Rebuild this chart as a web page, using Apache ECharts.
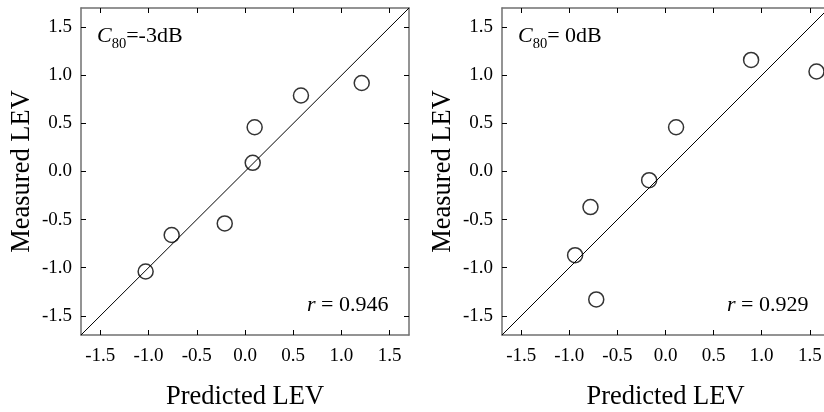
<!DOCTYPE html>
<html>
<head>
<meta charset="utf-8">
<script src="https://cdn.jsdelivr.net/npm/echarts@6/dist/echarts.min.js"></script>
<style>html,body{margin:0;padding:0;background:#fff;}#c{width:824px;height:412px;}</style>
</head>
<body>
<div id="c"></div>
<script>
// Data
var tickValues = [-1.5, -1.0, -0.5, 0.0, 0.5, 1.0, 1.5];
var axisRange = [-1.7, 1.7];
var leftPredicted = [-1.03, -0.76, -0.21, 0.08, 0.10, 0.58, 1.21];
var leftMeasured  = [-1.04, -0.66, -0.54, 0.09, 0.46, 0.79, 0.92];
var rightPredicted = [-0.94, -0.78, -0.72, -0.17, 0.11, 0.89, 1.57];
var rightMeasured  = [-0.87, -0.37, -1.33, -0.09, 0.46, 1.16, 1.04];
var leftLabel = {sub: '80', rest: '=-3dB', r: '0.946'};
var rightLabel = {sub: '80', rest: '= 0dB', r: '0.929'};

var FONT = '"Liberation Serif", "Times New Roman", serif';
function pairs(xs, ys) { return xs.map(function (x, i) { return [x, ys[i]]; }); }

var frameLine = {show: true, onZero: false, lineStyle: {color: '#707070', width: 1.5}};
function mkX(gi, pos, withLabel) {
  return {
    type: 'value', gridIndex: gi, position: pos, min: axisRange[0], max: axisRange[1],
    name: withLabel ? 'Predicted LEV' : '', nameLocation: 'middle', nameGap: 49,
    nameTextStyle: {fontFamily: FONT, fontSize: 26.5, color: '#000'},
    axisLine: frameLine,
    axisTick: {show: true, inside: true, length: 5, customValues: tickValues, lineStyle: {color: '#000', width: 1}},
    axisLabel: {show: withLabel, customValues: tickValues, margin: 12, fontFamily: FONT, fontSize: 19, color: '#000',
      formatter: function (v) { return v.toFixed(1); }},
    splitLine: {show: false}
  };
}
function mkY(gi, pos, withLabel) {
  return {
    type: 'value', gridIndex: gi, position: pos, min: axisRange[0], max: axisRange[1],
    name: withLabel ? 'Measured LEV' : '', nameLocation: 'middle', nameGap: 45, nameRotate: 90,
    nameTextStyle: {fontFamily: FONT, fontSize: 26.5, color: '#000'},
    axisLine: frameLine,
    axisTick: {show: true, inside: true, length: 5, customValues: tickValues, lineStyle: {color: '#000', width: 1}},
    axisLabel: {show: withLabel, customValues: tickValues, margin: 9, fontFamily: FONT, fontSize: 19, color: '#000',
      formatter: function (v) { return v.toFixed(1); }},
    splitLine: {show: false}
  };
}
function scatter(ai, data) {
  return {type: 'scatter', xAxisIndex: ai, yAxisIndex: ai, data: data, symbol: 'circle', symbolSize: 15,
    itemStyle: {color: 'rgba(255,255,255,0)', borderColor: '#000', borderWidth: 1.5}, z: 3, silent: true};
}
function diag(ai) {
  return {type: 'line', xAxisIndex: ai, yAxisIndex: ai, data: pairs(axisRange, axisRange), showSymbol: false,
    lineStyle: {color: '#000', width: 1}, z: 2, silent: true};
}
function c80(left, lab) {
  return {type: 'text', left: left, top: 25, z: 10, style: {
    text: '{c|C}{s|' + lab.sub + '}{n|' + lab.rest + '}',
    rich: {
      c: {fontFamily: FONT, fontStyle: 'italic', fontSize: 22, lineHeight: 32, verticalAlign: 'middle', fill: '#000'},
      s: {fontFamily: FONT, fontSize: 14.5, lineHeight: 14, verticalAlign: 'bottom', fill: '#000'},
      n: {fontFamily: FONT, fontSize: 22, lineHeight: 32, verticalAlign: 'middle', fill: '#000'}
    }}};
}
function rText(left, lab) {
  return {type: 'text', left: left, top: 294, z: 10, style: {
    text: '{i|r}{n| = ' + lab.r + '}',
    rich: {
      i: {fontFamily: FONT, fontStyle: 'italic', fontSize: 22, fill: '#000'},
      n: {fontFamily: FONT, fontSize: 22, fill: '#000'}
    }}};
}

var chart = echarts.init(document.getElementById('c'), null, {renderer: 'canvas'});
chart.setOption({
  animation: false,
  backgroundColor: '#fff',
  grid: [
    {left: 81, top: 8, width: 328, height: 327, containLabel: false, outerBoundsMode: 'none'},
    {left: 502, top: 8, width: 327, height: 327, containLabel: false, outerBoundsMode: 'none'}
  ],
  xAxis: [mkX(0, 'bottom', true), mkX(1, 'bottom', true), mkX(0, 'top', false), mkX(1, 'top', false)],
  yAxis: [mkY(0, 'left', true), mkY(1, 'left', true), mkY(0, 'right', false), mkY(1, 'right', false)],
  series: [
    diag(0), diag(1),
    scatter(0, pairs(leftPredicted, leftMeasured)),
    scatter(1, pairs(rightPredicted, rightMeasured))
  ],
  graphic: [c80(97, leftLabel), c80(518, rightLabel), rText(307, leftLabel), rText(727, rightLabel)]
});
</script>
</body>
</html>
